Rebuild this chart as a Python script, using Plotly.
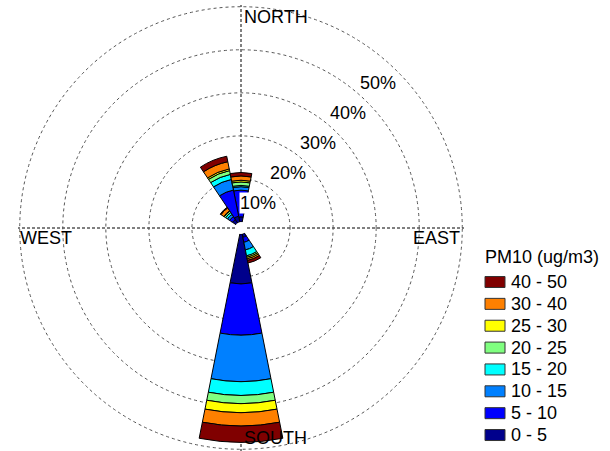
import plotly.graph_objects as go

W, H = 610, 451

# ---------------- data ----------------
directions = [0, 22.5, 45, 67.5, 90, 112.5, 135, 157.5,
              180, 202.5, 225, 247.5, 270, 292.5, 315, 337.5]
bins = ["0 - 5", "5 - 10", "10 - 15", "15 - 20", "20 - 25", "25 - 30", "30 - 40", "40 - 50"]
colors = ["#00008C", "#0000FF", "#0080FF", "#00FFFF", "#80FF80", "#FFFF00", "#FF8000", "#800000"]

# frequency (%) per PM10 bin for each of the 16 directions (None = no data)
N_ = None
f_0_5   = [1.2, N_, N_, N_, N_, N_, N_, 0.8, 11.6, N_, N_, N_, N_, N_, 1.0, 1.4]
f_5_10  = [6.2, N_, N_, N_, N_, N_, N_, 1.2, 11.9, N_, N_, N_, N_, N_, 0.8, 6.2]
f_10_15 = [0.8, N_, N_, N_, N_, N_, N_, 1.8, 10.8, N_, N_, N_, N_, N_, 0.6, 2.5]
f_15_20 = [0.3, N_, N_, N_, N_, N_, N_, 1.4, 3.2, N_, N_, N_, N_, N_, 0.5, 1.2]
f_20_25 = [0.8, N_, N_, N_, N_, N_, N_, 0.35, 1.9, N_, N_, N_, N_, N_, 0.4, 0.9]
f_25_30 = [0.4, N_, N_, N_, N_, N_, N_, 0.35, 2.1, N_, N_, N_, N_, N_, 0.1, 0.4]
f_30_40 = [1.0, N_, N_, N_, N_, N_, N_, 0.4, 3.1, N_, N_, N_, N_, N_, 0.8, 1.7]
f_40_50 = [0.8, N_, N_, N_, N_, N_, N_, 0.6, 3.8, N_, N_, N_, N_, N_, 0.2, 1.3]
series = [f_0_5, f_5_10, f_10_15, f_15_20, f_20_25, f_25_30, f_30_40, f_40_50]

ring_values = [10, 20, 30, 40, 50]
ring_labels = ["10%", "20%", "30%", "40%", "50%"]
compass = ["NORTH", "EAST", "SOUTH", "WEST"]
legend_title = "PM10 (ug/m3)"

FONT = "Arial, Liberation Sans, sans-serif"

fig = go.Figure()
for name, col, vals in zip(bins, colors, series):
    fig.add_trace(go.Barpolar(
        r=vals, theta=directions, name=name, width=22.5,
        marker=dict(color=col, line=dict(color="black", width=1)),
        showlegend=False,
    ))

def px(x, y):
    return x / W, 1 - y / H

annotations = []
# ring labels
for v, lab in zip(ring_values, ring_labels):
    x, y = px(228 + 3.0 * v, 233 - 3.0 * v)
    annotations.append(dict(x=x, y=y, xref="paper", yref="paper", text=lab,
                            showarrow=False, xanchor="center", yanchor="middle",
                            bgcolor="white" if v == 10 else "rgba(0,0,0,0)",
                            borderpad=0, font=dict(size=18, color="black", family=FONT)))
# compass labels
comp_pos = {"NORTH": (242, 17, "left"), "EAST": (462, 238, "right"),
            "SOUTH": (242, 438, "left"), "WEST": (18, 238, "left")}
for c in compass:
    x0, y0, anc = comp_pos[c]
    x, y = px(x0, y0)
    annotations.append(dict(x=x, y=y, xref="paper", yref="paper", text=c,
                            showarrow=False, xanchor=anc, yanchor="middle",
                            font=dict(size=18, color="black", family=FONT)))

# manual legend
shapes = []
x, y = px(483, 257)
annotations.append(dict(x=x, y=y, xref="paper", yref="paper", text=legend_title,
                        showarrow=False, xanchor="left", yanchor="middle",
                        font=dict(size=18, color="black", family=FONT)))
order = list(range(len(bins)))[::-1]
for i, k in enumerate(order):
    cy = 282 + i * 21.86
    x0, y0 = px(485, cy - 5.5)
    x1, y1 = px(505, cy + 5.5)
    shapes.append(dict(type="rect", xref="paper", yref="paper", x0=x0, x1=x1, y0=y1, y1=y0,
                       fillcolor=colors[k], line=dict(color="#333333", width=1)))
    tx, ty = px(509, cy)
    annotations.append(dict(x=tx, y=ty, xref="paper", yref="paper", text=bins[k],
                            showarrow=False, xanchor="left", yanchor="middle",
                            font=dict(size=18, color="black", family=FONT)))

fig.update_layout(
    width=W, height=H,
    margin=dict(l=0, r=0, t=0, b=0),
    paper_bgcolor="white", plot_bgcolor="white",
    font=dict(family=FONT, size=18, color="black"),
    polar=dict(
        domain=dict(x=[18 / W, 464 / W], y=[0, 446 / H]),
        hole=6 / 223,
        bgcolor="white",
        barmode="stack",
        radialaxis=dict(range=[0, 50.4], tickvals=ring_values, showticklabels=False,
                        ticks="", showline=False, gridcolor="#555555", gridwidth=1,
                        griddash="3px,3px"),
        angularaxis=dict(rotation=90, direction="clockwise", tickvals=[0, 90, 180, 270],
                         showticklabels=False, ticks="", showline=False,
                         gridcolor="black", gridwidth=1, griddash="3px,2px"),
    ),
    annotations=annotations,
    shapes=shapes,
    showlegend=False,
)

fig.write_html("out.html", config={"displayModeBar": False},
               post_script="document.body.style.margin='0';")
